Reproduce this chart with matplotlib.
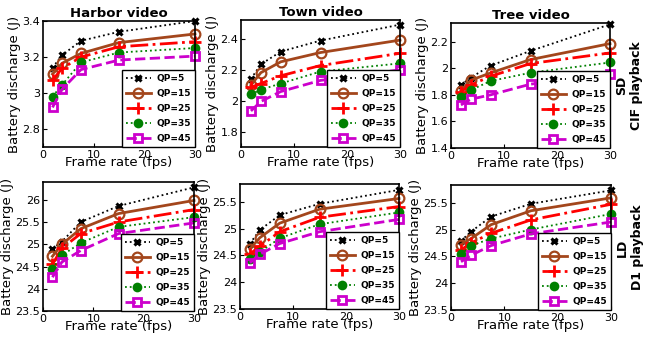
import matplotlib
matplotlib.use('Agg')
import matplotlib.pyplot as plt
from matplotlib.ticker import FuncFormatter

# frame rates (fps)
fps = [1.875, 3.75, 7.5, 15, 30]
qp_labels = ['QP=5', 'QP=15', 'QP=25', 'QP=35', 'QP=45']
titles = ['Harbor video', 'Town video', 'Tree video']
row_labels = ['SD\nCIF playback', 'LD\nD1 playback']

# battery discharge (J), SD / CIF playback
harbor_sd = [[3.14, 3.21, 3.29, 3.34, 3.40],
             [3.105, 3.165, 3.22, 3.28, 3.328],
             [3.07, 3.137, 3.20, 3.257, 3.285],
             [2.98, 3.045, 3.17, 3.225, 3.25],
             [2.92, 3.02, 3.13, 3.183, 3.205]]
town_sd = [[2.14, 2.234, 2.316, 2.387, 2.49],
           [2.10, 2.18, 2.25, 2.31, 2.39],
           [2.086, 2.11, 2.16, 2.226, 2.305],
           [2.04, 2.07, 2.11, 2.187, 2.24],
           [1.933, 1.994, 2.058, 2.13, 2.198]]
tree_sd = [[1.874, 1.93, 2.02, 2.13, 2.33],
           [1.83, 1.91, 1.965, 2.065, 2.185],
           [1.824, 1.874, 1.94, 2.035, 2.115],
           [1.78, 1.836, 1.904, 1.966, 2.043],
           [1.724, 1.767, 1.80, 1.88, 1.956]]

# battery discharge (J), LD / D1 playback
harbor_ld = [[24.9, 25.06, 25.5, 25.86, 26.28],
             [24.73, 25.0, 25.35, 25.69, 25.985],
             [24.55, 24.91, 25.24, 25.5, 25.78],
             [24.45, 24.75, 25.03, 25.39, 25.61],
             [24.26, 24.6, 24.86, 25.24, 25.48]]
town_ld = [[24.72, 24.975, 25.25, 25.46, 25.72],
           [24.62, 24.83, 25.10, 25.36, 25.56],
           [24.525, 24.67, 24.94, 25.21, 25.41],
           [24.43, 24.56, 24.82, 25.08, 25.30],
           [24.36, 24.52, 24.72, 24.94, 25.17]]
tree_ld = [[24.79, 24.96, 25.24, 25.48, 25.73],
           [24.72, 24.83, 25.09, 25.35, 25.59],
           [24.62, 24.75, 24.93, 25.18, 25.47],
           [24.54, 24.70, 24.83, 25.0, 25.29],
           [24.40, 24.52, 24.70, 24.92, 25.14]]

data = [[harbor_sd, town_sd, tree_sd], [harbor_ld, town_ld, tree_ld]]
ylims = [[(2.7, 3.4), (1.7, 2.52), (1.4, 2.34)],
         [(23.5, 26.4), (23.5, 25.83), (23.5, 25.83)]]
yticks = [[[2.8, 3.0, 3.2, 3.4], [1.8, 2.0, 2.2, 2.4], [1.4, 1.6, 1.8, 2.0, 2.2]],
          [[23.5, 24, 24.5, 25, 25.5, 26], [23.5, 24, 24.5, 25, 25.5], [23.5, 24, 24.5, 25, 25.5]]]

styles = [dict(color='black', ls=':', lw=1.3, marker='x', ms=5, mew=2.2),
          dict(color='#A3461C', ls='-', lw=2, marker='o', ms=7, mew=1.6, mfc='none'),
          dict(color='red', ls='-.', lw=2, marker='+', ms=8, mew=2),
          dict(color='green', ls=':', lw=1.3, marker='o', ms=7, mew=0),
          dict(color='#CC00CC', ls='--', lw=2, marker='s', ms=6, mew=2, mfc='none')]

W, H = 647, 337
fig = plt.figure(figsize=(W/100, H/100), dpi=100)

# axes boxes in pixels: left, right, top, bottom
boxes = [[(43, 195, 21, 147), (241, 400, 20, 147), (451, 610, 23, 148)],
         [(43, 194, 182, 311), (240, 399, 184, 309), (451, 611, 185, 310)]]

fmt = FuncFormatter(lambda v, p: '%g' % round(v, 3))

for r in range(2):
    for c in range(3):
        l, rt, t, b = boxes[r][c]
        ax = fig.add_axes([l/W, 1-b/H, (rt-l)/W, (b-t)/H])
        for k in range(5):
            ax.plot(fps, data[r][c][k], label=qp_labels[k], clip_on=False, **styles[k])
        ax.set_xlim(0, 30)
        ax.set_ylim(*ylims[r][c])
        ax.set_xticks([0, 10, 20, 30])
        ax.set_yticks(yticks[r][c])
        ax.yaxis.set_major_formatter(fmt)
        ax.tick_params(direction='in', length=3, labelsize=8, pad=2)
        for s in ax.spines.values():
            s.set_linewidth(1.2)
        ax.set_xlabel('Frame rate (fps)', fontsize=9.5, labelpad=-3)
        ax.set_ylabel('Battery discharge (J)', fontsize=9.5, labelpad=1)
        if r == 0:
            ax.set_title(titles[c], fontsize=9.5, fontweight='bold', pad=3)
        leg = ax.legend(loc='lower right', borderaxespad=0,
                        prop={'weight': 'bold', 'size': 6.5}, fancybox=False,
                        edgecolor='black', framealpha=1, handlelength=2.8,
                        labelspacing=0.65, borderpad=0.45, handletextpad=0.6)
        leg.get_frame().set_linewidth(1.0)
        if c == 2:
            ax.text(1.03, 0.5, row_labels[r], transform=ax.transAxes, rotation=90,
                    ha='left', va='center', fontsize=9, fontweight='bold',
                    multialignment='center')

fig.savefig('out.png', dpi=100)
